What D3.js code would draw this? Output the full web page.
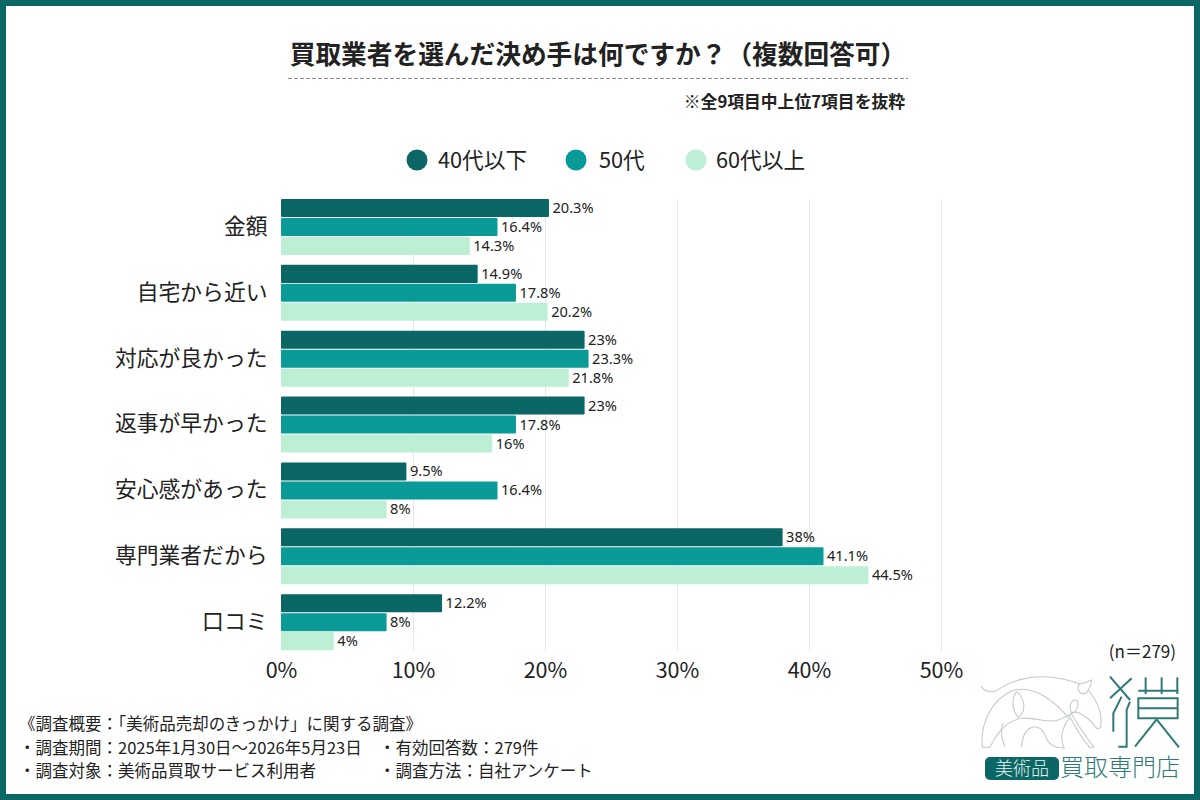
<!DOCTYPE html>
<html lang="ja">
<head>
<meta charset="utf-8">
<script src="https://cdn.jsdelivr.net/npm/d3@7/dist/d3.min.js"></script>
<style>
html,body{margin:0;padding:0;background:#fff}
svg{display:block}
text{font-family:"Noto Sans CJK JP","Noto Sans",sans-serif;fill:#222}
text.value{font-family:"Noto Sans",sans-serif}
</style>
</head>
<body>
<svg id="chart" width="1200" height="800"></svg>
<script>
const categories = ["金額","自宅から近い","対応が良かった","返事が早かった","安心感があった","専門業者だから","口コミ"];
const seriesNames = ["40代以下","50代","60代以上"];
const seriesColors = ["#0a6766","#0a9a98","#bcefd3"];
const under40s = [20.3,14.9,23,23,9.5,38,12.2];
const fifties = [16.4,17.8,23.3,17.8,16.4,41.1,8];
const over60s = [14.3,20.2,21.8,16,8,44.5,4];
const xTicks = [0,10,20,30,40,50];
const titleText = "買取業者を選んだ決め手は何ですか？（複数回答可）";
const noteText = "※全9項目中上位7項目を抜粋";
const sampleText = "(n＝279)";
const surveyLines = [
  ["《調査概要：「美術品売却のきっかけ」に関する調査》",null],
  ["・調査期間：2025年1月30日～2026年5月23日","・有効回答数：279件"],
  ["・調査対象：美術品買取サービス利用者","・調査方法：自社アンケート"]
];

const svg = d3.select("#chart");
const seriesValues = [under40s,fifties,over60s];

// Page frame
svg.append("rect").attr("x",3).attr("y",3).attr("width",1194).attr("height",794)
  .attr("fill","#fff").attr("stroke","#0a6766").attr("stroke-width",6);

// Heading block
svg.append("text").attr("x",598).attr("y",63.5).attr("text-anchor","middle")
  .attr("font-size",25.7).attr("font-weight",700).attr("fill","#1c1c1c").text(titleText);
svg.append("line").attr("x1",288).attr("x2",908).attr("y1",78.5).attr("y2",78.5)
  .attr("stroke","#8a8a8a").attr("stroke-width",1.2).attr("stroke-dasharray","4 2");
svg.append("text").attr("x",905).attr("y",108).attr("text-anchor","end")
  .attr("font-size",16.8).attr("font-weight",700).text(noteText);

// Legend
const legendX = [417,576,696];
const legendLabelX = [438,599,716];
const legend = svg.append("g").selectAll("g").data(seriesNames).join("g");
legend.append("circle").attr("cx",(d,i)=>legendX[i]).attr("cy",160).attr("r",10.5).attr("fill",(d,i)=>seriesColors[i]);
legend.append("text").attr("x",(d,i)=>legendLabelX[i]).attr("y",168).attr("font-size",21.7).attr("fill","#333").text(d=>d);

// Scales
const x = d3.scaleLinear().domain([0,50]).range([281,941]);
const y = d3.scaleBand().domain(categories).range([193,654]).paddingInner(0).paddingOuter(0);
const inner = d3.scaleBand().domain(d3.range(3)).range([6,62]).paddingInner(0.05);

// Gridlines
svg.append("g").selectAll("line").data(xTicks.slice(1)).join("line")
  .attr("x1",d=>x(d)+0.5).attr("x2",d=>x(d)+0.5).attr("y1",199).attr("y2",651)
  .attr("stroke","#e4e6ea").attr("stroke-width",1);

// Grouped bars with their value labels
seriesValues.forEach((vals,s)=>{
  const g = svg.append("g");
  g.selectAll("rect").data(vals).join("rect")
    .attr("x",x(0)).attr("y",(d,i)=>y(categories[i])+inner(s))
    .attr("width",d=>x(d)-x(0)).attr("height",inner.bandwidth())
    .attr("rx",1).attr("fill",seriesColors[s]);
  g.selectAll("text").data(vals).join("text").attr("class","value")
    .attr("x",d=>x(d)+3.5).attr("y",(d,i)=>y(categories[i])+inner(s)+inner.bandwidth()/2+5)
    .attr("font-size",14.6).attr("fill","#333").text(d=>d+"%");
});

// Axes
const yAxis = svg.append("g").attr("transform",`translate(267.5,0)`)
  .call(d3.axisLeft(y).tickSize(0).tickPadding(0));
yAxis.select(".domain").remove();
yAxis.selectAll("text").attr("font-size",21.8).attr("fill","#222").attr("dy","0.36em");
const xAxis = svg.append("g").attr("transform",`translate(0,670)`)
  .call(d3.axisBottom(x).tickValues(xTicks).tickSize(0).tickPadding(0).tickFormat(d=>d+"%"));
xAxis.select(".domain").remove();
xAxis.selectAll("text").attr("font-size",21.5).attr("fill","#222").attr("dy","0.36em").attr("y",0);

svg.append("text").attr("x",1176).attr("y",658).attr("text-anchor","end")
  .attr("font-size",17).attr("fill","#333").text(sampleText);

// Survey notes
const noteRows = svg.append("g").selectAll("g").data(surveyLines).join("g")
  .attr("transform",(d,i)=>`translate(19,${730+i*23.5})`);
noteRows.append("text").attr("font-size",16.5).attr("fill","#333").text(d=>d[0]);
noteRows.filter(d=>d[1]).append("text").attr("x",360).attr("font-size",16.5).attr("fill","#333").text(d=>d[1]);

// Brand mark, drawn in a 3x working grid anchored at the lower right of the page
const logo = svg.append("g").attr("fill","none").attr("transform","translate(975,670) scale(0.3333)");
const animal = [
  "M18,48 C25,62 45,70 65,62 C110,30 170,15 230,22 C270,28 300,35 315,42 C325,40 340,35 350,30 C350,42 345,52 340,60 C360,85 382,120 378,160 C378,178 368,180 360,170 C350,150 330,140 315,130 C305,125 295,126 288,130 C310,165 335,205 357,231 L345,233 C320,205 300,170 282,135",
  "M315,42 C305,50 308,68 325,72 C332,70 338,65 340,60",
  "M22,232 C15,160 50,90 110,62 C170,45 235,85 285,150",
  "M22,232 L45,232 C70,180 100,150 140,145 C180,140 220,162 250,150 C270,142 285,135 300,125 C312,110 312,90 300,90 C286,92 282,110 290,130",
  "M125,65 C150,85 155,125 130,142 C112,125 108,85 125,65",
  "M90,232 C80,210 75,175 85,160",
  "M140,232 C140,170 190,150 210,195 C220,222 235,234 268,234 C255,210 260,180 278,150"
];
logo.selectAll("path.animal").data(animal).join("path").attr("class","animal")
  .attr("d",d=>d).attr("stroke","#c4c9cb").attr("stroke-width",3.2);

const glyph = [
  "M405,20 L465,90","M470,25 L405,85","M440,80 L415,130 L415,185","M465,95 L455,120 L455,230 L430,230",
  "M490,62 L610,62","M512,22 L512,72","M560,22 L560,72","M607,22 L607,72",
  "M490,85 L608,85 L608,145 L490,145 Z","M490,115 L608,115",
  "M545,148 L480,230","M545,148 L612,232"
];
logo.selectAll("path.glyph").data(glyph).join("path").attr("class","glyph")
  .attr("d",d=>d).attr("stroke","#2f7a78").attr("stroke-width",6);

svg.append("rect").attr("x",985).attr("y",757).attr("width",74).attr("height",23).attr("rx",5).attr("fill","#0a6766");
svg.append("text").attr("x",1022).attr("y",775).attr("text-anchor","middle")
  .attr("font-size",18).attr("font-weight",300).style("fill","#e8f5f2").text("美術品");
svg.append("text").attr("x",1060).attr("y",776)
  .attr("font-size",24).attr("font-weight",300).style("fill","#2f7a78").text("買取専門店");
</script>
</body>
</html>
